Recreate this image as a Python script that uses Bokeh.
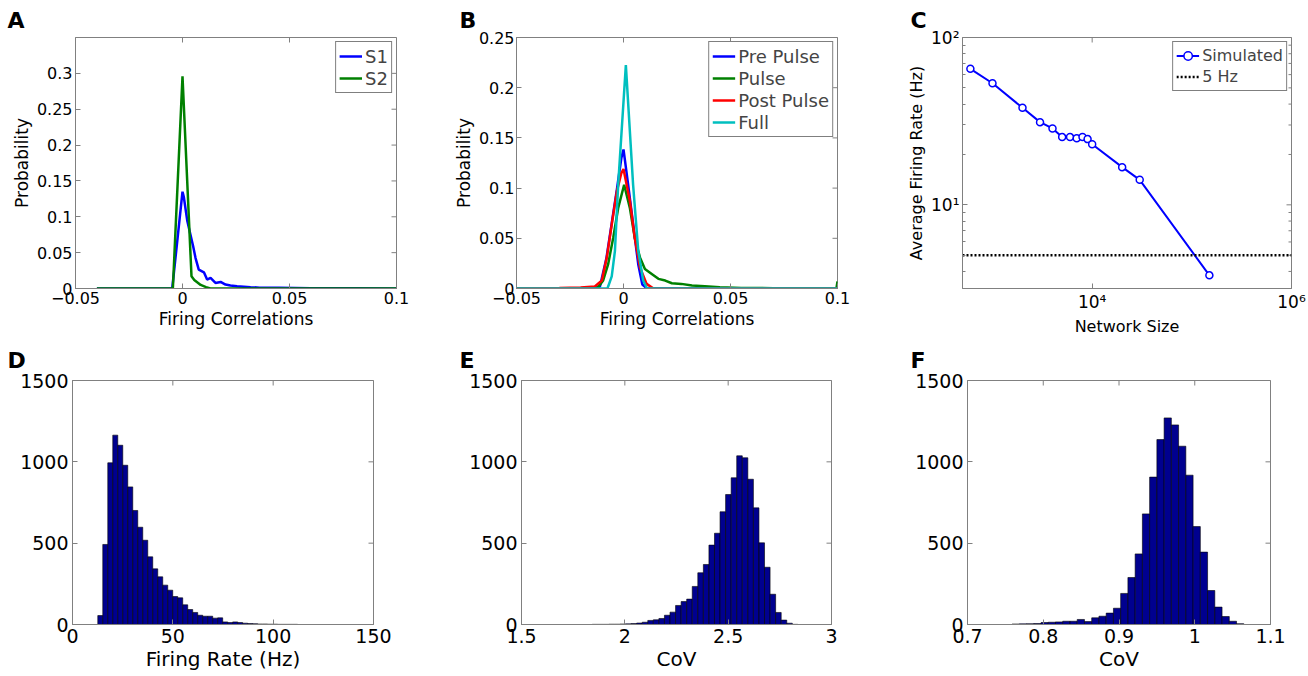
import numpy as np
from bokeh.plotting import figure
from bokeh.layouts import row, column
from bokeh.models import (FixedTicker, Legend, LegendItem, Title, Range1d)
from bokeh.embed import file_html
from bokeh.resources import INLINE

FONT = "DejaVu Sans"
GRAY = "#808080"

# ---------------- Panel A data ----------------
a_s1_x = [-0.04, -0.0048, 0.0, 0.0006, 0.0022, 0.0034, 0.005, 0.0061, 0.0076, 0.0100,
          0.0115, 0.0131, 0.0154, 0.0178, 0.0201, 0.0224, 0.0255, 0.0318, 0.036, 0.045,
          0.06, 0.08, 0.1]
a_s1_y = [0.0, 0.0, 0.135, 0.128, 0.095, 0.079, 0.0585, 0.0424, 0.0263, 0.0226,
          0.0124, 0.0147, 0.0078, 0.0092, 0.0055, 0.0041, 0.0032, 0.0018, 0.0012, 0.001,
          0.0005, 0.0004, 0.0]
a_s2_x = [-0.04, -0.0045, 0.0, 0.0042, 0.0055, 0.0085, 0.011, 0.013, 0.1]
a_s2_y = [0.0, 0.0, 0.296, 0.017, 0.012, 0.005, 0.002, 0.0, 0.0]

# ---------------- Panel B data ----------------
b_pre_x = [-0.05, -0.015, -0.011, -0.008, -0.0055, -0.003, -0.001, 0.0, 0.0022, 0.0053,
           0.0069, 0.0088, 0.011, 0.1]
b_pre_y = [0.0, 0.0, 0.002, 0.03, 0.065, 0.1, 0.13, 0.1385, 0.103, 0.0506,
           0.024, 0.004, 0.0, 0.0]
b_pulse_x = [-0.05, -0.015, -0.0119, -0.0095, -0.0072, -0.0048, -0.0025, 0.0003, 0.003,
             0.0053, 0.0077, 0.01, 0.0132, 0.0163, 0.0195, 0.0226, 0.027, 0.032, 0.038,
             0.045, 0.055, 0.07, 0.0995, 0.1]
b_pulse_y = [0.0, 0.0, 0.0013, 0.008, 0.024, 0.0506, 0.080, 0.1034, 0.080,
             0.05, 0.031, 0.0194, 0.0145, 0.0096, 0.0079, 0.0052, 0.0046, 0.003, 0.0023,
             0.0012, 0.0006, 0.0003, 0.0, 0.007]
b_post_x = [-0.05, -0.03, -0.02, -0.0134, -0.0101, -0.0078, -0.0055, -0.0031, -0.001, 0.0,
            0.003, 0.0053, 0.0077, 0.0108, 0.014, 0.1]
b_post_y = [0.0, 0.0005, 0.001, 0.002, 0.008, 0.031, 0.0638, 0.0967, 0.115, 0.119,
            0.0869, 0.05, 0.021, 0.0046, 0.0, 0.0]
b_full_x = [-0.05, -0.0075, -0.0055, -0.004, -0.0025, 0.0011, 0.0045, 0.0069, 0.0092, 0.011, 0.1]
b_full_y = [0.0, 0.0, 0.012, 0.0375, 0.103, 0.2225, 0.103, 0.0375, 0.008, 0.0, 0.0]

# ---------------- Panel C data ----------------
c_size = [600, 1000, 2000, 3000, 4000, 5000, 6000, 7000, 8000, 9000, 10000, 20000, 30000, 150000]
c_rate = [65, 53.3, 38, 31.2, 28.6, 25.4, 25.4, 25.0, 25.4, 24.7, 23.0, 16.8, 14.1, 3.79]
c_threshold_hz = 5

# ---------------- Panel D data (firing rate histogram) ----------------
d_counts = [55, 492, 994, 1164, 1102, 979, 846, 701, 598, 518, 416, 342, 293, 242, 211,
            172, 164, 121, 92, 74, 57, 51, 51, 39, 41, 16, 12, 16, 12, 8, 6, 5, 3, 3, 2,
            2, 1, 1, 1, 1]
d_start, d_width = 12.6, 2.49

# ---------------- Panel E data (CoV histogram) ----------------
e_counts = [1, 1, 1, 2, 2, 3, 4, 6, 9, 14, 25, 29, 37, 57, 76, 117, 141, 156, 234, 318,
            369, 488, 561, 693, 799, 902, 1037, 1025, 893, 717, 502, 352, 186, 74, 27, 8, 1]
e_start, e_width = 1.842, 0.0269

# ---------------- Panel F data (CoV histogram) ----------------
f_counts = [3, 4, 5, 6, 12, 14, 16, 20, 20, 31, 18, 41, 51, 70, 100, 191, 289, 434, 680,
            906, 1137, 1270, 1227, 1096, 918, 602, 445, 209, 107, 49, 20, 5]
f_start, f_width = 0.7588, 0.00956

TOP_ROW_TOP, TOP_ROW_BOTTOM = 37, 49
BOT_ROW_TOP, BOT_ROW_BOTTOM = 42, 52


def make_fig(width, height, left, right, top, bottom, x_range, y_range,
             x_type="linear", y_type="linear"):
    p = figure(width=width, height=height, x_range=x_range, y_range=y_range,
               x_axis_type=x_type, y_axis_type=y_type,
               output_backend="svg", toolbar_location=None,
               min_border_left=left, min_border_right=right,
               min_border_top=top, min_border_bottom=bottom)
    p.xgrid.grid_line_color = None
    p.ygrid.grid_line_color = None
    p.outline_line_color = GRAY
    p.outline_line_width = 1
    p.background_fill_color = "white"
    p.border_fill_color = "white"
    return p


def style_axis(ax, ticks, labels, tick_font, label_font, minor=None,
               label_standoff=3, axis_label_standoff=2):
    ax.ticker = FixedTicker(ticks=ticks, minor_ticks=minor or [])
    ax.major_label_overrides = dict(zip(ticks, labels))
    ax.major_label_text_font = FONT
    ax.major_label_text_font_size = tick_font
    ax.major_label_text_color = "black"
    ax.axis_line_color = GRAY
    ax.major_tick_in = 5
    ax.major_tick_out = 0
    ax.minor_tick_in = 3
    ax.minor_tick_out = 0
    ax.major_tick_line_color = GRAY
    ax.minor_tick_line_color = GRAY
    ax.major_label_standoff = label_standoff
    ax.axis_label_text_font = FONT
    ax.axis_label_text_font_style = "normal"
    ax.axis_label_text_font_size = label_font
    ax.axis_label_text_color = "black"
    ax.axis_label_standoff = axis_label_standoff


def mirror_ticks(p, xticks, yticks, x_end, y_end, yminor=None):
    """Inward tick marks on the top and right edges of the frame (clipped half-dashes)."""
    p.scatter(xticks, [y_end] * len(xticks), marker="dash", angle=np.pi / 2, size=10,
              line_color=GRAY, line_width=1)
    p.scatter([x_end] * len(yticks), yticks, marker="dash", size=10,
              line_color=GRAY, line_width=1)
    if yminor:
        p.scatter([x_end] * len(yminor), yminor, marker="dash", size=6,
                  line_color=GRAY, line_width=1)


def panel_letter(p, letter, offset, standoff):
    p.title = Title(text=letter, align="left", offset=offset, standoff=standoff,
                    vertical_align="top",
                    text_font=FONT, text_font_style="bold", text_font_size="22px",
                    text_color="black")


def make_legend(p, items, font_size, row_h):
    lg = Legend(items=items, location="top_right", margin=4, padding=3, spacing=0,
                label_text_font=FONT, label_text_font_size=font_size,
                glyph_width=23, glyph_height=row_h, label_height=row_h,
                label_standoff=3, border_line_color="black", border_line_width=1,
                background_fill_color="white", background_fill_alpha=1.0)
    p.add_layout(lg)


corr_ticks = [-0.05, 0, 0.05, 0.1]
corr_labels = ["\u22120.05", "0", "0.05", "0.1"]

# ---------------- Panel A ----------------
a_xr, a_yr = (-0.05, 0.1), (0, 0.35)
pA = make_fig(438, 338, 75, 42, TOP_ROW_TOP, TOP_ROW_BOTTOM, Range1d(*a_xr), Range1d(*a_yr))
style_axis(pA.xaxis[0], corr_ticks, corr_labels, "16px", "17px")
a_yt = [0, 0.05, 0.1, 0.15, 0.2, 0.25, 0.3]
style_axis(pA.yaxis[0], a_yt, ["0", "0.05", "0.1", "0.15", "0.2", "0.25", "0.3"], "16px", "17px")
pA.xaxis.axis_label = "Firing Correlations"
pA.yaxis.axis_label = "Probability"
mirror_ticks(pA, corr_ticks, a_yt, a_xr[1], a_yr[1])
rA1 = pA.line(a_s1_x, a_s1_y, line_color="#0000FF", line_width=2.5)
rA2 = pA.line(a_s2_x, a_s2_y, line_color="#008000", line_width=2.5)
make_legend(pA, [LegendItem(label="S1", renderers=[rA1]),
                 LegendItem(label="S2", renderers=[rA2])], "18px", 22)
panel_letter(pA, "A", -68, 6)

# ---------------- Panel B ----------------
b_xr, b_yr = (-0.05, 0.1), (0, 0.25)
pB = make_fig(430, 338, 78, 31, TOP_ROW_TOP, TOP_ROW_BOTTOM, Range1d(*b_xr), Range1d(*b_yr))
style_axis(pB.xaxis[0], corr_ticks, corr_labels, "16px", "17px")
b_yt = [0, 0.05, 0.1, 0.15, 0.2, 0.25]
style_axis(pB.yaxis[0], b_yt, ["0", "0.05", "0.1", "0.15", "0.2", "0.25"], "16px", "17px",
           label_standoff=2)
pB.xaxis.axis_label = "Firing Correlations"
pB.yaxis.axis_label = "Probability"
mirror_ticks(pB, corr_ticks, b_yt, b_xr[1], b_yr[1])
rB1 = pB.line(b_pre_x, b_pre_y, line_color="#0000FF", line_width=2.5)
rB2 = pB.line(b_pulse_x, b_pulse_y, line_color="#008000", line_width=2.5)
rB3 = pB.line(b_post_x, b_post_y, line_color="#FF0000", line_width=2.5)
rB4 = pB.line(b_full_x, b_full_y, line_color="#00BFBF", line_width=2.5)
make_legend(pB, [LegendItem(label="Pre Pulse", renderers=[rB1]),
                 LegendItem(label="Pulse", renderers=[rB2]),
                 LegendItem(label="Post Pulse", renderers=[rB3]),
                 LegendItem(label="Full", renderers=[rB4])], "18px", 22)
panel_letter(pB, "B", -57, 6)

# ---------------- Panel C ----------------
c_xr, c_yr = (500, 1e6), (10 ** 0.5, 100)
pC = make_fig(440, 338, 94, 17, TOP_ROW_TOP, TOP_ROW_BOTTOM, Range1d(*c_xr),
              Range1d(*c_yr), x_type="log", y_type="log")
c_xt = [1e4, 1e6]
c_yt = [10, 100]
c_ym = [4, 5, 6, 7, 8, 9, 20, 30, 40, 50, 60, 70, 80, 90]
style_axis(pC.xaxis[0], c_xt, ["10\u2074", "10\u2076"], "17px", "16px")
style_axis(pC.yaxis[0], c_yt, ["10\u00b9", "10\u00b2"], "17px", "16px", minor=c_ym)
pC.xaxis.axis_label = "Network Size"
pC.yaxis.axis_label = "Average Firing Rate (Hz)"
mirror_ticks(pC, c_xt, c_yt, c_xr[1], c_yr[1], yminor=c_ym)
rC1 = pC.line(c_size, c_rate, line_color="#0000FF", line_width=2)
rC2 = pC.scatter(c_size, c_rate, marker="circle", size=7, fill_color="white",
                 line_color="#0000FF", line_width=1.5)
rC3 = pC.line(list(c_xr), [c_threshold_hz, c_threshold_hz], line_color="black",
              line_width=2.5, line_dash="2 2")
make_legend(pC, [LegendItem(label="Simulated", renderers=[rC1, rC2]),
                 LegendItem(label="5 Hz", renderers=[rC3])], "16px", 21)
panel_letter(pC, "C", -52, 6)


# ---------------- Histograms ----------------
def hist_panel(counts, start, width, xr, xticks, xlabels, xlabel, fig_w, left, right, letter, off):
    yr = (0, 1500)
    p = make_fig(fig_w, 338, left, right, BOT_ROW_TOP, BOT_ROW_BOTTOM, Range1d(*xr), Range1d(*yr))
    counts = np.asarray(counts, dtype=float)
    edges = start + width * np.arange(len(counts) + 1)
    p.quad(left=edges[:-1], right=edges[1:], top=counts, bottom=0,
           fill_color="#00008F", line_color="black", line_width=0.6)
    yt = [0, 500, 1000, 1500]
    style_axis(p.xaxis[0], xticks, xlabels, "19px", "20px", label_standoff=4,
               axis_label_standoff=1)
    style_axis(p.yaxis[0], yt, ["0", "500", "1000", "1500"], "19px", "19px", label_standoff=4)
    p.xaxis.axis_label = xlabel
    mirror_ticks(p, xticks, yt, xr[1], yr[1])
    panel_letter(p, letter, off, 12)
    return p


pD = hist_panel(d_counts, d_start, d_width, (0, 150), [0, 50, 100, 150],
                ["0", "50", "100", "150"], "Firing Rate (Hz)", 438, 72, 65, "D", -65)
pE = hist_panel(e_counts, e_start, e_width, (1.5, 3), [1.5, 2, 2.5, 3],
                ["1.5", "2", "2.5", "3"], "CoV", 430, 83, 37, "E", -62)
pF = hist_panel(f_counts, f_start, f_width, (0.7, 1.1), [0.7, 0.8, 0.9, 1, 1.1],
                ["0.7", "0.8", "0.9", "1", "1.1"], "CoV", 440, 99, 38, "F", -57)

layout = column(row(pA, pB, pC, spacing=0), row(pD, pE, pF, spacing=0), spacing=0)
open("out.html", "w").write(file_html(layout, INLINE))
